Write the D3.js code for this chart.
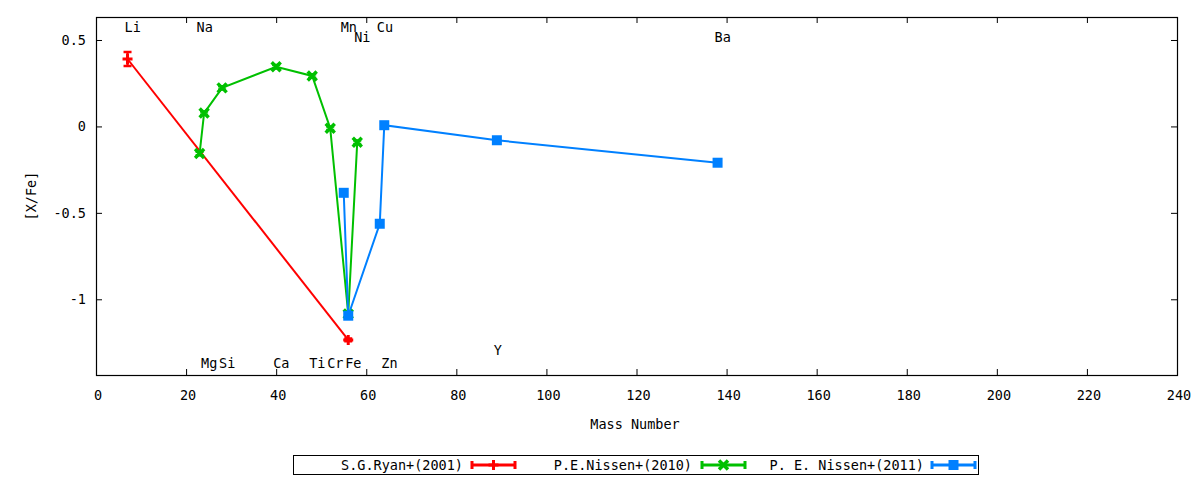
<!DOCTYPE html>
<html>
<head>
<meta charset="utf-8">
<script src="https://cdn.jsdelivr.net/npm/d3@7"></script>
<style>
	body { margin: 0; background: #fff; }
	text { font-family: "DejaVu Sans Mono", monospace; font-size: 13.5px; fill: #000; }
</style>
</head>
<body>
<div class="chart"></div>
<script>
// series: mass number, [X/Fe], error
var ryanMass = [7, 56];
var ryanVal = [0.39, -1.235];
var ryanErr = [0.04, 0.008];

var nissen10Mass = [23, 24, 28, 40, 48, 52, 56, 58];
var nissen10Val = [-0.157, 0.077, 0.223, 0.345, 0.292, -0.01, -1.085, -0.091];
var nissen10Err = [0.01, 0.01, 0.01, 0.01, 0.01, 0.01, 0.01, 0.01];

var nissen11Mass = [55, 56, 63, 64, 89, 138];
var nissen11Val = [-0.384, -1.095, -0.563, 0.007, -0.08, -0.21];

// element labels
var elemNames = ["Li", "Na", "Mn", "Ni", "Cu", "Ba", "Mg", "Si", "Ca", "Ti", "Cr", "Fe", "Zn", "Y"];
var elemMass = [7, 23, 55, 58, 63, 138, 24, 28, 40, 48, 52, 56, 64, 89];
var elemY = [0.574, 0.574, 0.574, 0.516, 0.574, 0.516, -1.37, -1.37, -1.37, -1.37, -1.37, -1.37, -1.37, -1.29];

var xTicks = [0, 20, 40, 60, 80, 100, 120, 140, 160, 180, 200, 220, 240];
var yTicks = [0.5, 0, -0.5, -1];
var yTickLabels = ["0.5", "0", "-0.5", "-1"];

var seriesNames = ["S.G.Ryan+(2001)", "P.E.Nissen+(2010)", "P. E. Nissen+(2011)"];
var seriesColors = ["#ff0000", "#00c000", "#0080ff"];

var chartWidth = 1200, chartHeight = 480;
var plotLeft = 96, plotRight = 1177, plotTop = 17, plotBottom = 375;

var svg = d3.select("div.chart").append("svg")
	.attr("width", chartWidth)
	.attr("height", chartHeight);

var xScale = d3.scaleLinear().domain([0, 240]).range([plotLeft, plotRight]);
var yScale = d3.scaleLinear().domain([-1.438, 0.633]).range([plotBottom, plotTop]);

// frame + inward ticks on all sides
var axes = svg.append("g").classed("axes", true);
axes.append("g")
	.attr("transform", "translate(0," + plotBottom + ")")
	.call(d3.axisTop(xScale).tickValues(xTicks).tickSize(6).tickFormat(""));
axes.append("g")
	.attr("transform", "translate(0," + plotTop + ")")
	.call(d3.axisBottom(xScale).tickValues(xTicks).tickSize(6).tickFormat(""));
axes.append("g")
	.attr("transform", "translate(" + plotLeft + ",0)")
	.call(d3.axisRight(yScale).tickValues(yTicks).tickSize(6).tickFormat(""));
axes.append("g")
	.attr("transform", "translate(" + plotRight + ",0)")
	.call(d3.axisLeft(yScale).tickValues(yTicks).tickSize(6).tickFormat(""));
axes.selectAll(".domain").remove();
axes.selectAll(".tick line").attr("stroke", "#000").attr("stroke-width", 1);
axes.append("rect")
	.attr("x", plotLeft + 0.5).attr("y", plotTop + 0.5)
	.attr("width", plotRight - plotLeft).attr("height", plotBottom - plotTop)
	.attr("fill", "none").attr("stroke", "#000").attr("stroke-width", 1.2);

// tick labels
svg.append("g").selectAll("text")
	.data(xTicks)
	.enter().append("text")
	.attr("x", function(d){ return xScale(d) + 2; })
	.attr("y", plotBottom + 25)
	.style("text-anchor", "middle")
	.text(function(d){ return d; });

svg.append("g").selectAll("text")
	.data(yTicks)
	.enter().append("text")
	.attr("x", 86)
	.attr("y", function(d){ return yScale(d); })
	.attr("dy", "0.35em")
	.style("text-anchor", "end")
	.text(function(d, i){ return yTickLabels[i]; });

svg.append("text")
	.attr("x", 635)
	.attr("y", 429)
	.style("text-anchor", "middle")
	.text("Mass Number");

svg.append("text")
	.attr("transform", "translate(36,196) rotate(-90)")
	.style("text-anchor", "middle")
	.text("[X/Fe]");

// element labels
svg.append("g").selectAll("text")
	.data(elemNames)
	.enter().append("text")
	.attr("x", function(d, i){ return xScale(elemMass[i]) - 3; })
	.attr("y", function(d, i){ return yScale(elemY[i]); })
	.attr("dy", "0.38em")
	.text(function(d){ return d; });

function makePoints(mass, val, err){
	return mass.map(function(m, i){
		return {x: m, y: val[i], e: err ? err[i] : 0};
	});
}

var series = [
	{name: seriesNames[0], color: seriesColors[0], marker: "plus", pts: makePoints(ryanMass, ryanVal, ryanErr)},
	{name: seriesNames[1], color: seriesColors[1], marker: "cross", pts: makePoints(nissen10Mass, nissen10Val, nissen10Err)},
	{name: seriesNames[2], color: seriesColors[2], marker: "square", pts: makePoints(nissen11Mass, nissen11Val, null)}
];

var line = d3.line()
	.x(function(d){ return xScale(d.x); })
	.y(function(d){ return yScale(d.y); });

function drawMarker(g, type, color, cx, cy){
	if(type == "plus"){
		g.append("path")
			.attr("d", "M" + (cx - 5) + "," + cy + "H" + (cx + 5) + "M" + cx + "," + (cy - 5) + "V" + (cy + 5))
			.attr("stroke", color).attr("stroke-width", 3).attr("fill", "none");
	}else if(type == "cross"){
		g.append("path")
			.attr("d", "M" + (cx - 4.5) + "," + (cy - 4.5) + "L" + (cx + 4.5) + "," + (cy + 4.5) +
				"M" + (cx - 4.5) + "," + (cy + 4.5) + "L" + (cx + 4.5) + "," + (cy - 4.5))
			.attr("stroke", color).attr("stroke-width", 3.5).attr("fill", "none");
	}else{
		g.append("rect")
			.attr("x", cx - 5).attr("y", cy - 5)
			.attr("width", 10).attr("height", 10)
			.attr("fill", color);
	}
}

var plotarea = svg.append("g").classed("plotarea", true);

series.forEach(function(s){
	var g = plotarea.append("g").classed("series", true);
	g.append("path")
		.datum(s.pts)
		.attr("d", line)
		.attr("fill", "none")
		.attr("stroke", s.color)
		.attr("stroke-width", 2);
	s.pts.forEach(function(p){
		var cx = xScale(p.x), cy = yScale(p.y);
		if(p.e > 0){
			var y0 = yScale(p.y - p.e), y1 = yScale(p.y + p.e);
			g.append("path")
				.attr("d", "M" + cx + "," + y0 + "V" + y1 +
					"M" + (cx - 4) + "," + y0 + "H" + (cx + 4) +
					"M" + (cx - 4) + "," + y1 + "H" + (cx + 4))
				.attr("stroke", s.color).attr("stroke-width", 2.5).attr("fill", "none");
		}
		drawMarker(g, s.marker, s.color, cx, cy);
	});
});

// legend
var legend = svg.append("g").classed("legend", true);
legend.append("rect")
	.attr("x", 293.5).attr("y", 455.5)
	.attr("width", 685).attr("height", 19)
	.attr("fill", "none").attr("stroke", "#000").attr("stroke-width", 1);

var legendTextEnd = [463, 692, 924];
var legendSampleStart = [472, 702, 932];
series.forEach(function(s, i){
	var ly = 465;
	legend.append("text")
		.attr("x", legendTextEnd[i])
		.attr("y", ly)
		.attr("dy", "0.35em")
		.style("text-anchor", "end")
		.text(s.name);
	var x0 = legendSampleStart[i], x1 = x0 + 43;
	legend.append("path")
		.attr("d", "M" + x0 + "," + ly + "H" + x1 +
			"M" + x0 + "," + (ly - 4) + "V" + (ly + 4) +
			"M" + x1 + "," + (ly - 4) + "V" + (ly + 4))
		.attr("stroke", s.color).attr("stroke-width", 3).attr("fill", "none");
	drawMarker(legend, s.marker, s.color, (x0 + x1) / 2, ly);
});
</script>
</body>
</html>
